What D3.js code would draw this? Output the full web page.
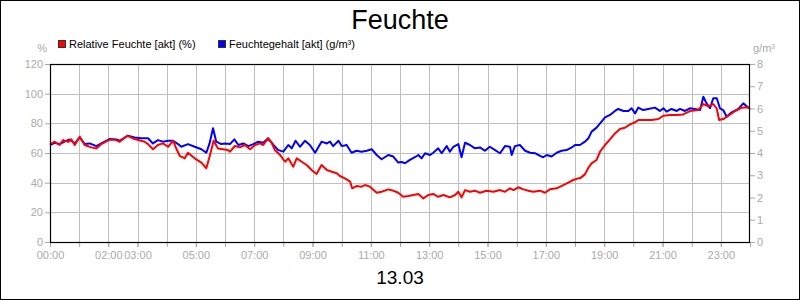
<!DOCTYPE html>
<html>
<head>
<meta charset="utf-8">
<script src="https://cdn.jsdelivr.net/npm/d3@7"></script>
<style>
html,body{margin:0;padding:0;background:#fff;}
svg{display:block;font-family:"Liberation Sans",Arial,sans-serif;}
</style>
</head>
<body>
<svg id="chart" width="800" height="300"></svg>
<script>
// ---- data (hours of day, values) ----
const title = "Feuchte";
const dateLabel = "13.03";
const seriesNames = ["Relative Feuchte [akt] (%)", "Feuchtegehalt [akt] (g/m³)"];
const xTickHours = [0, 2, 3, 5, 7, 9, 11, 13, 15, 17, 19, 21, 23];
const xTickLabels = ["00:00","02:00","03:00","05:00","07:00","09:00","11:00","13:00","15:00","17:00","19:00","21:00","23:00"];
const leftTicks = [0, 20, 40, 60, 80, 100, 120];
const rightTicks = [0, 1, 2, 3, 4, 5, 6, 7, 8];

const rhHours = [0.0,0.16,0.33,0.45,0.62,0.73,0.85,1.02,1.19,1.42,1.59,1.76,2.05,2.22,2.39,2.65,2.85,3.02,3.25,3.36,3.53,3.70,3.87,4.05,4.22,4.33,4.45,4.62,4.73,4.96,5.19,5.36,5.47,5.61,5.76,5.93,6.10,
 6.17,6.34,6.51,6.68,6.86,7.03,7.20,7.31,7.48,7.60,7.71,7.89,8.06,8.17,8.34,8.46,8.63,8.80,8.97,9.14,9.31,9.49,9.66,9.83,9.94,10.11,10.29,10.36,10.51,10.68,10.80,10.97,11.20,11.37,11.60,11.77,11.94,12.11,
 12.29,12.46,12.63,12.80,12.97,13.14,13.31,13.49,13.71,13.89,14.00,14.11,14.23,14.40,14.57,14.74,14.97,15.20,15.43,15.60,15.77,15.89,16.06,16.23,16.40,16.57,16.80,16.97,17.14,17.37,17.60,17.77,17.94,18.11,
 18.17,18.34,18.46,18.57,18.74,18.86,19.03,19.20,19.37,19.54,19.71,19.89,20.06,20.17,20.40,20.63,20.86,21.03,21.26,21.49,21.71,21.94,22.23,22.40,22.57,22.74,22.86,22.94,23.08,23.26,23.49,23.71,23.89,24.0];
const rhValues = [66,67.6,65.4,68.7,67.5,69.2,65.4,71,65.4,63.8,63,66,69,69,67.6,71.6,69.8,68.7,67.6,66,62.5,65.4,66.5,64.2,68.3,63,58,56.4,60.2,56.4,53.5,49.7,57.5,68.3,63,62.5,62,
 60.9,64.7,63.8,65.4,62.5,65.4,66.5,65.4,69.9,66.9,62,58.6,54.1,56.4,50.8,56.4,54.1,51.9,48.5,45.8,51.9,48.5,47.4,46.3,44.5,42.9,40.7,36.2,37.7,37.3,38.4,37.3,33.2,33.9,35.5,34.6,33.2,30.5,
 31,31.7,32.4,29.4,31.7,32.4,30.5,31.7,30.1,31.7,33.9,30.1,35,33.9,34.6,33.2,34.6,33.9,35,33.9,36.2,35,36.9,35.5,34.6,33.9,34.6,33.2,35.5,36.2,38.4,40,41.8,42.9,
 42.9,45.6,50.1,53,55.3,60.9,65.4,69.2,73.2,76.2,77,79.3,80.7,82.2,82.2,82.2,82.9,85.1,85.6,85.6,86,88.3,89,93,91.5,93,90,82.2,82.9,85.1,88.3,90.5,90.8,90.5];

const ahHours = [0.0,0.16,0.33,0.50,0.67,0.85,1.02,1.19,1.36,1.59,1.76,2.05,2.28,2.39,2.67,2.90,3.13,3.36,3.53,3.70,3.87,4.05,4.22,4.39,4.50,4.73,4.96,5.19,5.36,5.47,5.59,5.70,5.87,6.0,
 6.17,6.32,6.46,6.63,6.80,6.97,7.14,7.31,7.48,7.66,7.83,8.00,8.17,8.29,8.42,8.57,8.74,8.91,9.09,9.31,9.49,9.60,9.71,9.89,10.0,10.17,10.34,10.51,10.68,10.86,11.03,11.20,11.37,11.60,11.77,11.94,12.06,
 12.17,12.34,12.51,12.63,12.74,12.86,13.03,13.14,13.31,13.43,13.60,13.71,13.83,14.00,14.11,14.23,14.40,14.57,14.74,14.91,15.08,15.26,15.43,15.60,15.77,15.83,15.94,16.11,16.29,16.46,16.63,16.80,16.91,17.03,17.20,17.37,17.54,17.71,17.89,18.0,
 18.17,18.34,18.46,18.57,18.74,18.86,19.03,19.20,19.37,19.48,19.66,19.83,19.94,20.06,20.17,20.34,20.51,20.74,20.91,21.03,21.14,21.31,21.49,21.60,21.77,21.94,22.11,22.29,22.40,22.51,22.63,22.74,22.86,22.97,23.08,23.20,23.37,23.60,23.77,23.94,24.0];
const ahValues = [4.36,4.46,4.40,4.51,4.61,4.43,4.70,4.40,4.43,4.31,4.43,4.63,4.61,4.55,4.78,4.70,4.66,4.66,4.43,4.58,4.51,4.55,4.55,4.40,4.28,4.40,4.28,4.17,4.01,4.43,5.11,4.51,4.40,4.43,
 4.40,4.61,4.36,4.43,4.31,4.40,4.51,4.46,4.66,4.36,4.13,4.06,4.36,4.21,4.55,4.28,4.55,4.36,4.01,4.51,4.43,4.51,4.31,4.55,4.31,4.36,4.01,4.10,4.06,4.10,4.17,3.91,3.72,3.91,3.84,3.57,3.60,
 3.54,3.69,3.81,3.91,3.76,3.99,3.91,4.01,4.21,3.99,4.31,4.06,4.28,4.40,3.81,4.46,4.36,4.21,4.25,4.10,4.28,4.13,3.99,4.31,4.28,3.91,4.31,4.36,4.10,4.01,3.99,3.87,3.81,3.91,3.84,4.01,4.10,4.13,4.25,4.36,
 4.36,4.51,4.66,4.96,5.14,5.33,5.60,5.71,5.89,5.98,5.89,5.89,6.01,5.78,6.04,5.93,5.98,6.04,5.89,6.01,5.86,5.98,5.89,5.98,5.89,6.01,5.98,5.93,6.53,6.23,6.01,6.46,6.46,6.01,5.93,5.63,5.83,5.98,6.23,6.04,5.98];

// ---- layout ----
const svg = d3.select("#chart");
const W = 800, H = 300;
const L = 50, R = 750, T = 64, B = 242;
const grey = "#aaaaaa";

const x = d3.scaleLinear().domain([0, 24]).range([L, R]);
const yL = d3.scaleLinear().domain([0, 120]).range([B, T]);
const yR = d3.scaleLinear().domain([0, 8]).range([B, T]);

svg.append("rect").attr("x", 0.5).attr("y", 0.5).attr("width", W - 1).attr("height", H - 1)
  .attr("fill", "#fff").attr("stroke", "#000").attr("stroke-width", 1);

// grid
const grid = svg.append("g").attr("stroke", "#c0c0c0").attr("stroke-width", 1);
grid.selectAll("line.v").data(d3.range(1, 24)).join("line")
  .attr("x1", d => Math.round(x(d)) + 0.5).attr("x2", d => Math.round(x(d)) + 0.5)
  .attr("y1", T).attr("y2", B);
grid.selectAll("line.h").data(leftTicks.slice(1, -1)).join("line")
  .attr("x1", L).attr("x2", R)
  .attr("y1", d => Math.round(yL(d)) + 0.5).attr("y2", d => Math.round(yL(d)) + 0.5);

// axes
const fontSize = 11;
const axL = svg.append("g").attr("transform", `translate(${L},0)`)
  .call(d3.axisLeft(yL).tickValues(leftTicks).tickSize(5).tickPadding(2));
const axR = svg.append("g").attr("transform", `translate(${R},0)`)
  .call(d3.axisRight(yR).tickValues(rightTicks).tickSize(5).tickPadding(2));
const axB = svg.append("g").attr("transform", `translate(0,${B})`)
  .call(d3.axisBottom(x).tickValues(xTickHours).tickFormat((d, i) => xTickLabels[i]).tickSize(5).tickPadding(4));
const axBt = svg.append("g").attr("transform", `translate(0,${B})`)
  .call(d3.axisBottom(x).tickValues(d3.range(0, 25)).tickFormat("").tickSize(5));
[axL, axR, axB, axBt].forEach(a => {
  a.select(".domain").remove();
  a.selectAll(".tick line").attr("stroke", grey);
  a.selectAll(".tick text").attr("fill", grey).attr("font-size", fontSize)
    .attr("font-family", "Liberation Sans, Arial, sans-serif");
});

// lines
const lineAH = d3.line().x((d, i) => x(ahHours[i])).y(d => yR(d));
const lineRH = d3.line().x((d, i) => x(rhHours[i])).y(d => yL(d));
svg.append("path").datum(ahValues).attr("d", lineAH)
  .attr("fill", "none").attr("stroke", "#0000ff").attr("stroke-width", 2).attr("stroke-linejoin", "round");
svg.append("path").datum(rhValues).attr("d", lineRH)
  .attr("fill", "none").attr("stroke", "#ff0000").attr("stroke-width", 2).attr("stroke-linejoin", "round");

// plot frame
svg.append("rect").attr("x", L + 0.5).attr("y", T + 0.5).attr("width", R - L - 1).attr("height", B - T)
  .attr("fill", "none").attr("stroke", "#000").attr("stroke-width", 1.2);

// unit labels
svg.append("text").attr("x", 47).attr("y", 52).attr("text-anchor", "end")
  .attr("fill", grey).attr("font-size", fontSize).text("%");
svg.append("text").attr("x", 753).attr("y", 52).attr("text-anchor", "start")
  .attr("fill", grey).attr("font-size", fontSize).text("g/m³");

// legend
const colors = ["#ff0000", "#0000ff"];
const legX = [58, 218];
seriesNames.forEach((name, i) => {
  svg.append("rect").attr("x", legX[i] + 0.5).attr("y", 40.5).attr("width", 7).attr("height", 7)
    .attr("fill", colors[i]).attr("stroke", "#333").attr("stroke-width", 1);
  svg.append("text").attr("x", legX[i] + 11).attr("y", 48).attr("font-size", fontSize)
    .attr("fill", "#000").text(name);
});

// title & date
svg.append("text").attr("x", 400).attr("y", 29).attr("text-anchor", "middle")
  .attr("font-size", 27).attr("fill", "#000").text(title);
svg.append("text").attr("x", 400).attr("y", 284).attr("text-anchor", "middle")
  .attr("font-size", 19).attr("fill", "#000").text(dateLabel);
</script>
</body>
</html>
